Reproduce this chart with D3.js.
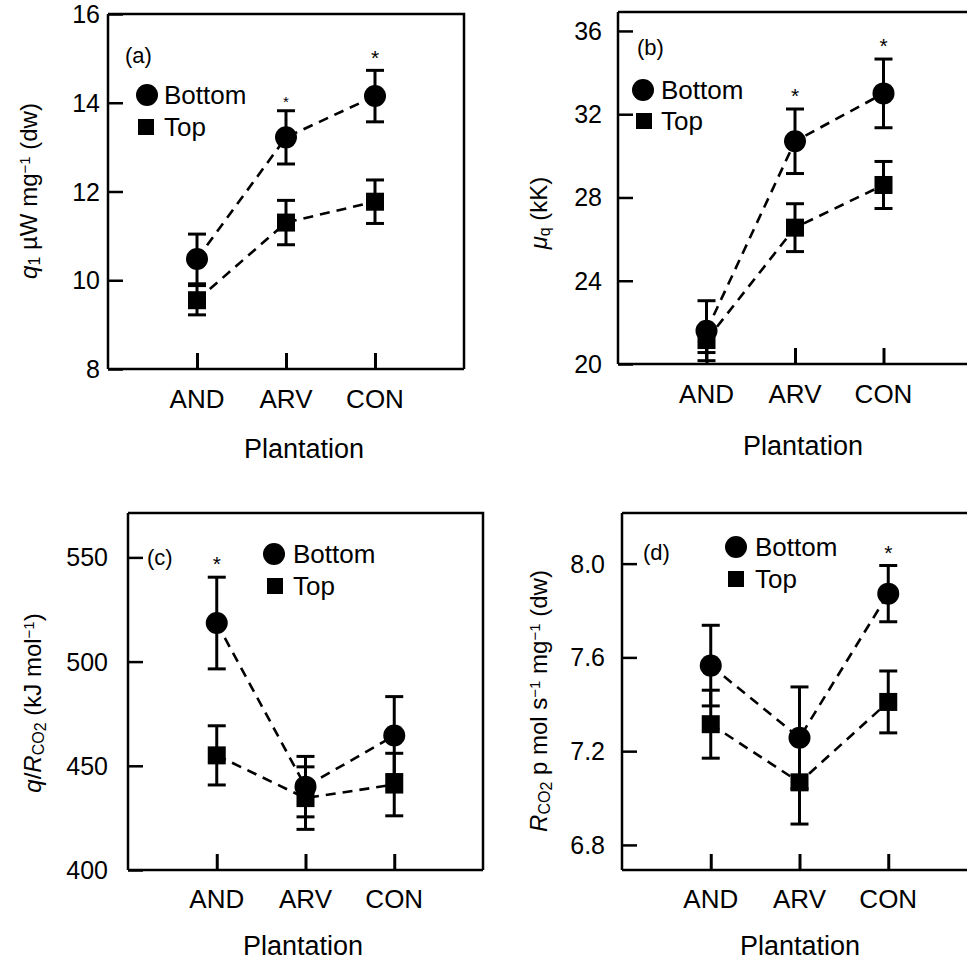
<!DOCTYPE html>
<html><head><meta charset="utf-8">
<script src="https://cdn.jsdelivr.net/npm/d3@7"></script>
<style>
body{margin:0;background:#fff;}
svg{display:block;font-family:"Liberation Sans",Arial,sans-serif;}
</style></head>
<body><svg id="chart" width="967" height="963"></svg>
<script>
const categories = ["AND","ARV","CON"];
const seriesNames = ["Bottom","Top"];

const aBottom = [10.48, 13.22, 14.15], aBottomErr = [0.56, 0.60, 0.58];
const aTop    = [9.55, 11.30, 11.77],  aTopErr    = [0.33, 0.50, 0.49];
const aSig    = ["", "small", "*"];
const aTicks  = [8, 10, 12, 14, 16];

const bBottom = [21.60, 30.70, 33.00], bBottomErr = [1.44, 1.55, 1.65];
const bTop    = [21.15, 26.55, 28.60], bTopErr    = [0.60, 1.15, 1.13];
const bSig    = ["", "*", "*"];
const bTicks  = [20, 24, 28, 32, 36];

const cBottom = [518.5, 440.0, 464.5], cBottomErr = [22.0, 14.5, 18.7];
const cTop    = [455.0, 434.5, 441.0], cTopErr    = [14.2, 15.0, 15.0];
const cSig    = ["*", "", ""];
const cTicks  = [400, 450, 500, 550];

const dBottom = [7.565, 7.257, 7.872], dBottomErr = [0.172, 0.217, 0.120];
const dTop    = [7.315, 7.067, 7.410], dTopErr    = [0.145, 0.178, 0.132];
const dSig    = ["", "", "*"];
const dTicks  = [6.8, 7.2, 7.6, 8.0];

const svg = d3.select("#chart");

const panels = [
  {key:"a", letter:"(a)", bottom:aBottom, bErr:aBottomErr, top:aTop, tErr:aTopErr, sig:aSig, ticks:aTicks, fmt:d3.format("d"),
   L:108, R:464, T:14, B:369, domain:[8,16], tickGap:8,
   ylab:{x:28,y:191}, xlab:{x:304,y:458}, letterPos:{x:125,y:55},
   leg:{cx:147,cy:95,sx:146,sy:127,tx:164}, catY:408},
  {key:"b", letter:"(b)", bottom:bBottom, bErr:bBottomErr, top:bTop, tErr:bTopErr, sig:bSig, ticks:bTicks, fmt:d3.format("d"),
   L:618, R:972, T:12, B:364, domain:[20,36.91], tickGap:16,
   ylab:{x:538,y:213}, xlab:{x:803,y:455}, letterPos:{x:637,y:47},
   leg:{cx:643,cy:90,sx:644,sy:121,tx:661}, catY:403},
  {key:"c", letter:"(c)", bottom:cBottom, bErr:cBottomErr, top:cTop, tErr:cTopErr, sig:cSig, ticks:cTicks, fmt:d3.format("d"),
   L:128, R:483, T:513, B:870, domain:[400,571.3], tickGap:20,
   ylab:{x:32,y:703}, xlab:{x:303,y:955}, letterPos:{x:147,y:557},
   leg:{cx:274,cy:554,sx:275,sy:586,tx:293}, catY:908},
  {key:"d", letter:"(d)", bottom:dBottom, bErr:dBottomErr, top:dTop, tErr:dTopErr, sig:dSig, ticks:dTicks, fmt:d3.format(".1f"),
   L:622, R:977, T:513, B:870, domain:[6.693,8.216], tickGap:17,
   ylab:{x:538,y:701}, xlab:{x:800,y:955}, letterPos:{x:643,y:552},
   leg:{cx:736,cy:547,sx:736,sy:579,tx:755}, catY:908}
];

const FS_TICK = 25, FS_CAT = 26, FS_LEG = 26, FS_XLAB = 27, FS_YLAB = 24;

function yLabel(g, key, x, y){
  const t = g.append("text")
    .attr("transform", `translate(${x+9},${y}) rotate(-90)`)
    .attr("text-anchor","middle").attr("font-size",FS_YLAB).attr("fill","#000");
  const sub = (s, shift, fs) => t.append("tspan").attr("font-size",fs||16).attr("baseline-shift",shift).text(s);
  if(key==="a"){
    t.append("tspan").attr("font-style","italic").text("q");
    sub("1","-20%",16);
    t.append("tspan").text(" \u00B5W mg");
    sub("\u22121","45%",15);
    t.append("tspan").text(" (dw)");
  } else if(key==="b"){
    t.append("tspan").attr("font-style","italic").text("\u03BC");
    sub("q","-20%",16);
    t.append("tspan").text(" (kK)");
  } else if(key==="c"){
    t.append("tspan").attr("font-style","italic").text("q");
    t.append("tspan").text("/");
    t.append("tspan").attr("font-style","italic").text("R");
    sub("CO","-20%",16);
    sub("2","-30%",16);
    t.append("tspan").attr("dy",0).text(" (kJ mol");
    sub("\u22121","45%",15);
    t.append("tspan").text(")");
  } else {
    t.append("tspan").attr("font-style","italic").text("R");
    sub("CO","-20%",16);
    sub("2","-30%",16);
    t.append("tspan").text(" p mol s");
    sub("\u22121","45%",15);
    t.append("tspan").text(" mg");
    sub("\u22121","45%",15);
    t.append("tspan").text(" (dw)");
  }
}

panels.forEach(p => {
  const g = svg.append("g");
  const x = d3.scalePoint().domain(categories).range([p.L, p.R]).padding(1);
  const y = d3.scaleLinear().domain(p.domain).range([p.B, p.T]);

  // frame top & right
  g.append("path").attr("d",`M${p.L},${p.T}H${p.R}V${p.B}`)
    .attr("fill","none").attr("stroke","#000").attr("stroke-width",2.5);

  // y axis (inward ticks)
  const ya = d3.axisRight(y).tickValues(p.ticks).tickSize(15).tickFormat("");
  const yg = g.append("g").attr("transform",`translate(${p.L},0)`).call(ya);
  yg.select(".domain").attr("stroke-width",2.5).attr("d",`M0,${p.T}V${p.B}`);
  yg.selectAll(".tick line").attr("stroke-width",2.5);
  g.selectAll(".ytl").data(p.ticks).join("text")
    .attr("x", p.L - p.tickGap).attr("y", d => y(d)).attr("dy","0.36em")
    .attr("text-anchor","end").attr("font-size",FS_TICK).text(p.fmt);

  // x axis (inward ticks)
  const xa = d3.axisTop(x).tickSize(16).tickFormat("");
  const xg = g.append("g").attr("transform",`translate(0,${p.B})`).call(xa);
  xg.select(".domain").attr("stroke-width",2.5).attr("d",`M${p.L},0H${p.R}`);
  xg.selectAll(".tick line").attr("stroke-width",3);
  g.selectAll(".xtl").data(categories).join("text")
    .attr("x", d => x(d)).attr("y", p.catY)
    .attr("text-anchor","middle").attr("font-size",FS_CAT).text(d => d);

  g.append("text").attr("x",p.xlab.x).attr("y",p.xlab.y).attr("text-anchor","middle")
    .attr("font-size",FS_XLAB).text("Plantation");
  yLabel(g, p.key, p.ylab.x, p.ylab.y);

  const series = [
    {name:seriesNames[0], vals:p.bottom, errs:p.bErr, shape:"circle"},
    {name:seriesNames[1], vals:p.top, errs:p.tErr, shape:"square"}
  ];
  const line = d3.line().x(d => x(d.c)).y(d => y(d.v));
  series.forEach(s => {
    const pts = categories.map((c,i) => ({c, v:s.vals[i], e:s.errs[i]}));
    g.append("path").attr("d", line(pts)).attr("fill","none").attr("stroke","#000")
      .attr("stroke-width",2.6).attr("stroke-dasharray","10,7");
    s.pts = pts;
  });
  series.forEach(s => {
    const eb = g.append("g");
    s.pts.forEach(d => {
      const cx = x(d.c), y1 = y(d.v + d.e), y0 = y(d.v - d.e);
      eb.append("line").attr("x1",cx).attr("x2",cx).attr("y1",y1).attr("y2",y0).attr("stroke","#000").attr("stroke-width",3);
      [y1,y0].forEach(yy => eb.append("line").attr("x1",cx-9).attr("x2",cx+9).attr("y1",yy).attr("y2",yy).attr("stroke","#000").attr("stroke-width",3));
    });
  });
  series.forEach(s => {
    s.pts.forEach(d => {
      if(s.shape==="circle") g.append("circle").attr("cx",x(d.c)).attr("cy",y(d.v)).attr("r",11).attr("fill","#000");
      else g.append("rect").attr("x",x(d.c)-9).attr("y",y(d.v)-9).attr("width",18).attr("height",18).attr("fill","#000");
    });
  });

  // significance asterisks
  categories.forEach((c,i) => {
    if(!p.sig[i]) return;
    const small = p.sig[i]==="small";
    const top = y(p.bottom[i] + p.bErr[i]);
    const fs = small ? 15 : 21;
    const off = small ? 12 : 18;
    g.append("text").attr("x", x(c)).attr("y", top - off + fs*0.58)
      .attr("text-anchor","middle").attr("font-size",fs).text("*");
  });

  // legend
  g.append("circle").attr("cx",p.leg.cx).attr("cy",p.leg.cy).attr("r",11).attr("fill","#000");
  g.append("rect").attr("x",p.leg.sx-8).attr("y",p.leg.sy-8).attr("width",16).attr("height",16).attr("fill","#000");
  g.append("text").attr("x",p.leg.tx).attr("y",p.leg.cy).attr("dy","0.36em").attr("font-size",FS_LEG).text(seriesNames[0]);
  g.append("text").attr("x",p.leg.tx).attr("y",p.leg.sy).attr("dy","0.36em").attr("font-size",FS_LEG).text(seriesNames[1]);

  g.append("text").attr("x",p.letterPos.x).attr("y",p.letterPos.y).attr("dy","0.36em")
    .attr("font-size",22).text(p.letter);
});
</script></body></html>
